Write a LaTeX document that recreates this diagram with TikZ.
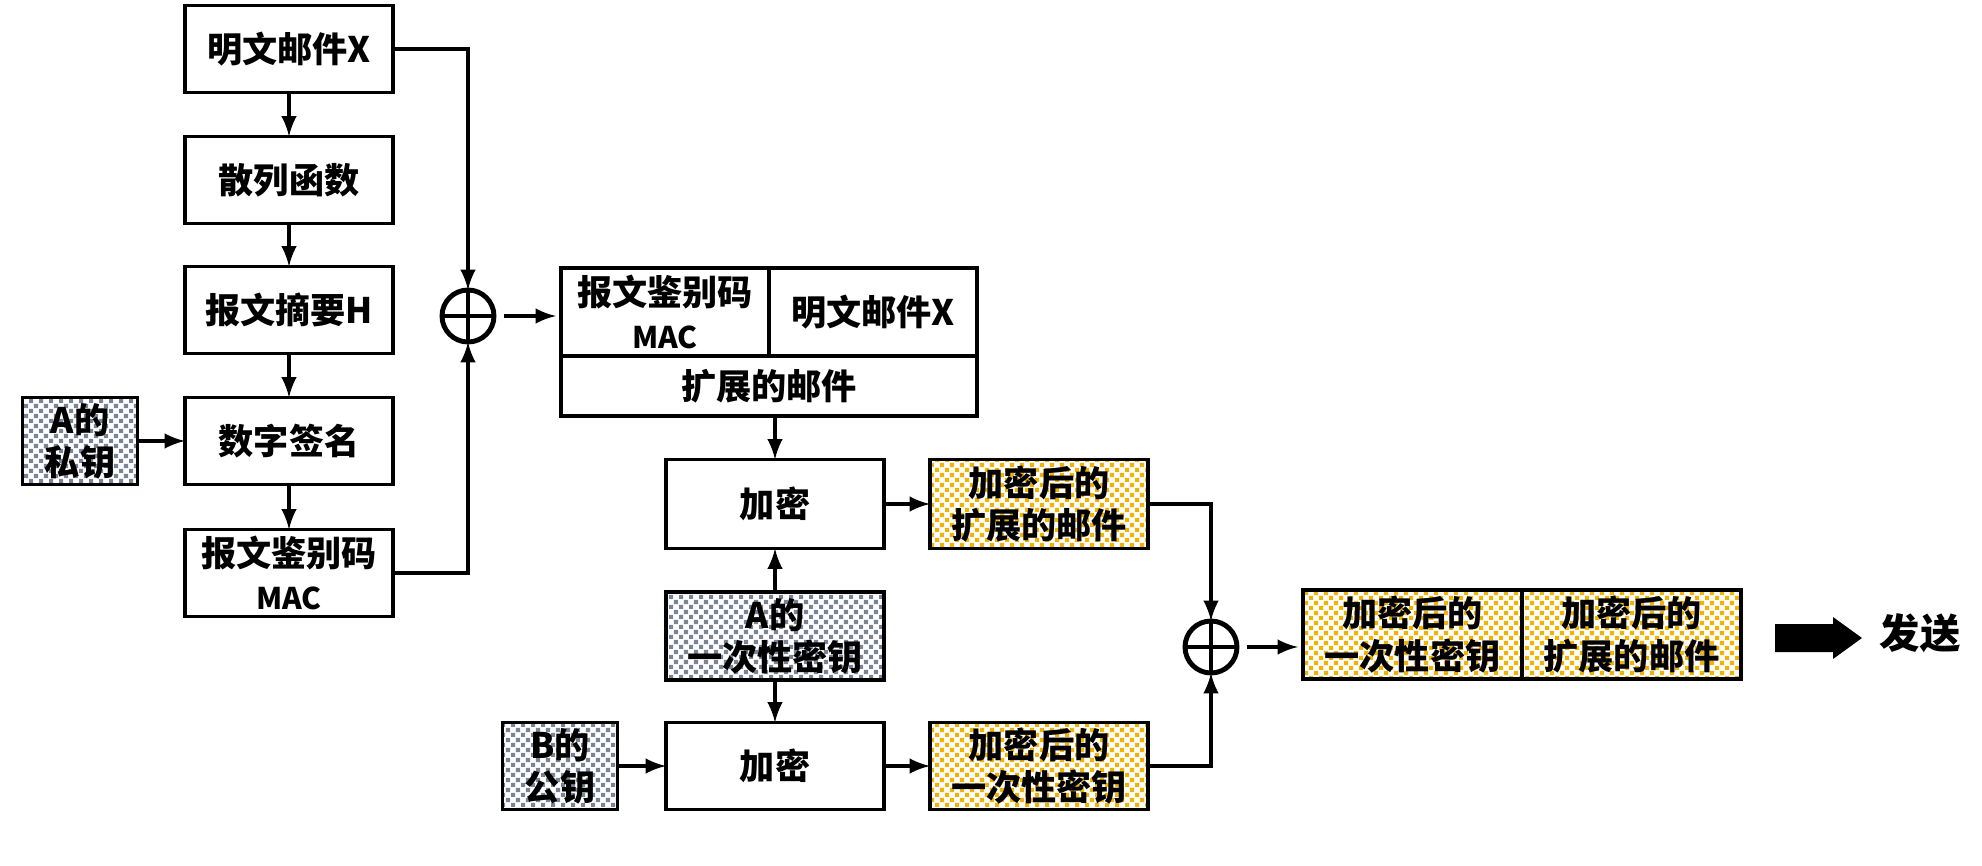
\documentclass[tikz,border=0pt]{standalone}
\usepackage{fontspec}
\setmainfont{Noto Sans CJK SC}
\usetikzlibrary{arrows,calc,positioning,patterns.meta}

\definecolor{kulcsszurke}{HTML}{7A8496}
\definecolor{titoksarga}{HTML}{F2B200}

% pöttyös kitöltés
\pgfdeclarepattern{name=negyzetek, type=uncolored,
  bottom left={\pgfpointorigin}, top right={\pgfqpoint{2.8pt}{2.8pt}},
  tile size={\pgfqpoint{2.8pt}{2.8pt}},
  code={
    \pgfpathrectangle{\pgfpointorigin}{\pgfqpoint{1.2pt}{1.2pt}}
    \pgfpathrectangle{\pgfqpoint{1.4pt}{1.4pt}}{\pgfqpoint{1.2pt}{1.2pt}}
    \pgfusepath{fill}}}

\tikzset{
  doboz/.style={draw, line width=1pt, outer sep=0pt, inner sep=0pt, align=center,
    minimum width=2.08cm, minimum height=0.87cm,
    font=\bfseries\fontsize{10}{12}\selectfont},
  kulcs/.style={doboz, minimum width=1.15cm, pattern=negyzetek, pattern color=kulcsszurke},
  titkos/.style={doboz, minimum width=2.18cm, minimum height=0.89cm, pattern=negyzetek, pattern color=titoksarga},
  oplus/.style={draw, circle, line width=1.4pt, minimum size=0.52cm, inner sep=0pt, outer sep=0pt,
    path picture={\draw[line width=1.4pt] (path picture bounding box.north) -- (path picture bounding box.south)
      (path picture bounding box.west) -- (path picture bounding box.east);}},
  nyil/.style={-latex, line width=1pt}
}

\begin{document}
\begin{tikzpicture}

\useasboundingbox (0,0) rectangle (19.82,-8.66);

% Bal oszlop
\node[doboz] (mx) at (2.89,-0.49) {明文邮件X};
\node[doboz] (hash) at (2.89,-1.80) {散列函数};
\node[doboz] (hh) at (2.89,-3.10) {报文摘要H};
\node[doboz] (sign) at (2.89,-4.41) {数字签名};
\node[doboz] (mac) at (2.89,-5.73) {报文鉴别码\\{\fontsize{8.5}{10}\selectfont MAC}};
\node[kulcs] (priv) at (0.80,-4.41) {A的\\私钥};

\foreach \a/\b in {mx/hash,hash/hh,hh/sign,sign/mac}{
\draw[nyil] (\a) -- (\b);
}
\draw[nyil] (priv) -- (sign);

% Első összegzés
\node[oplus] (plus1) at (4.68,-3.16) {};
\draw[nyil] (mx.east) -| (plus1.north);
\draw[nyil] (mac.east) -| (plus1.south);

% Kibővített levél
\node[doboz, minimum height=0.88cm] (extmac) at (6.65,-3.12) {报文鉴别码\\{\fontsize{8.5}{10}\selectfont MAC}};
\node[doboz, minimum height=0.88cm, right=0cm of extmac] (extx) {明文邮件X};
\node[doboz, minimum width=4.16cm, minimum height=0.60cm, anchor=north west] (ext) at (extmac.south west) {扩展的邮件};
\draw[nyil, shorten <=0.1cm, shorten >=0.05cm] (plus1.east) -- (plus1.east -| extmac.west);

% Titkosítás
\node[doboz, minimum width=2.18cm, minimum height=0.89cm] (enc1) at (7.75,-5.04) {加密};
\node[titkos] (encx) at (10.39,-5.04) {加密后的\\扩展的邮件};
\node[kulcs, minimum width=2.18cm, minimum height=0.88cm] (otk) at (7.75,-6.36) {A的\\一次性密钥};
\node[doboz, minimum width=2.18cm, minimum height=0.87cm] (enc2) at (7.75,-7.66) {加密};
\node[kulcs] (pubb) at (5.60,-7.66) {B的\\公钥};
\node[titkos, minimum height=0.87cm] (enck) at (10.39,-7.66) {加密后的\\一次性密钥};

\draw[nyil] (enc1 |- ext.south) -- (enc1.north);
\draw[nyil] (otk) -- (enc1);
\draw[nyil] (otk) -- (enc2);
\draw[nyil] (pubb) -- (enc2);
\draw[nyil] (enc1) -- (encx);
\draw[nyil] (enc2) -- (enck);

% Második összegzés
\node[oplus] (plus2) at (12.11,-6.47) {};
\draw[nyil] (encx.east) -| (plus2.north);
\draw[nyil] (enck.east) -| (plus2.south);

% Elküldött csomag
\node[titkos, minimum width=2.19cm] (kk) at (14.125,-6.345) {加密后的\\一次性密钥};
\node[titkos, minimum width=2.19cm, right=0cm of kk] (kx) {加密后的\\扩展的邮件};
\draw[nyil, shorten <=0.1cm, shorten >=0.05cm] (plus2.east) -- (plus2.east -| kk.west);

% Küldés
\fill (17.75,-6.24) -- (18.33,-6.24) -- (18.33,-6.17) -- (18.62,-6.38) -- (18.33,-6.59) -- (18.33,-6.52) -- (17.75,-6.52) -- cycle;
\node[font=\bfseries\fontsize{11.5}{13}\selectfont] (send) at (19.20,-6.33) {发送};

\end{tikzpicture}
\end{document}
